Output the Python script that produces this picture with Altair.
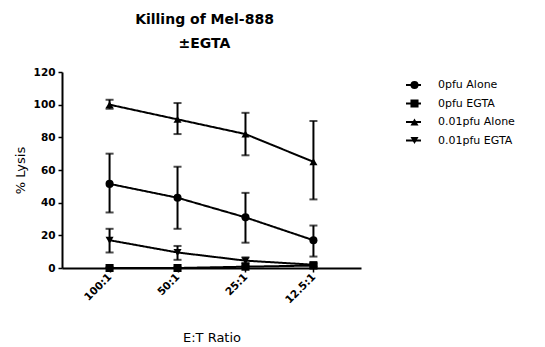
import altair as alt
import pandas as pd

ratios = ["100:1", "50:1", "25:1", "12.5:1"]
series = ["0pfu Alone", "0pfu EGTA", "0.01pfu Alone", "0.01pfu EGTA"]
shapes = ["circle", "square", "triangle-up", "triangle-down"]

mean_0_alone = [51.5, 43, 31, 17]
lo_0_alone = [34, 24, 15.5, 7]
hi_0_alone = [70, 62, 46, 26]

mean_0_egta = [0, 0, 0.8, 1.5]
lo_0_egta = [0, 0, 0.3, 0.8]
hi_0_egta = [0.4, 0.4, 1.3, 2.2]

mean_001_alone = [100, 91, 82, 65]
lo_001_alone = [97.5, 82, 69, 42]
hi_001_alone = [103, 101, 95, 90]

mean_001_egta = [17, 9.5, 4.5, 2]
lo_001_egta = [9.5, 5, 3, 1]
hi_001_egta = [24, 13.5, 6.5, 3]

means = [mean_0_alone, mean_0_egta, mean_001_alone, mean_001_egta]
los = [lo_0_alone, lo_0_egta, lo_001_alone, lo_001_egta]
his = [hi_0_alone, hi_0_egta, hi_001_alone, hi_001_egta]

rows = []
for i, (s, m, lo, hi) in enumerate(zip(series, means, los, his)):
    for r, mv, l, h in zip(ratios, m, lo, hi):
        rows.append({"ratio": r, "series": s, "series_line": s, "order": i,
                     "lysis": mv, "lo": l, "hi": h})
df = pd.DataFrame(rows)

FONT = "DejaVu Sans"
x_enc = alt.X("ratio:N", sort=ratios,
              scale=alt.Scale(type="point", domain=ratios, padding=0.7),
              axis=alt.Axis(title="E:T Ratio", labelAngle=-45, labelAlign="right",
                            labelBaseline="middle", labelPadding=3, titlePadding=26))
y_scale = alt.Scale(domain=[0, 120], nice=False)
y_axis = alt.Axis(title="% Lysis", values=[0, 20, 40, 60, 80, 100, 120], titlePadding=6,
                  labelPadding=3, labelOverlap=False)

base = alt.Chart(df)

lines = base.mark_line(color="black", strokeWidth=2).encode(
    x=x_enc,
    y=alt.Y("lysis:Q", scale=y_scale, axis=y_axis),
    detail="series:N",
    strokeDash=alt.StrokeDash(
        "series_line:N",
        sort=alt.EncodingSortField(field="order", op="min"),
        scale=alt.Scale(range=[[1, 0]] * 4),
        legend=alt.Legend(title=None, orient="none", legendX=343, legendY=5,
                          symbolType="stroke", symbolSize=225, symbolStrokeWidth=2,
                          symbolStrokeColor="black", labelExpr="''",
                          clipHeight=16, rowPadding=2.5, padding=0),
    ),
)

rules = base.mark_rule(color="black", strokeWidth=2).encode(
    x=x_enc,
    y=alt.Y("lo:Q", scale=y_scale, axis=y_axis),
    y2="hi:Q",
)
caps_lo = base.mark_tick(color="black", thickness=2, size=8).encode(
    x=x_enc, y=alt.Y("lo:Q", scale=y_scale, axis=y_axis))
caps_hi = base.mark_tick(color="black", thickness=2, size=8).encode(
    x=x_enc, y=alt.Y("hi:Q", scale=y_scale, axis=y_axis))

points = base.mark_point(filled=True, color="black", size=65, opacity=1).encode(
    x=x_enc,
    y=alt.Y("lysis:Q", scale=y_scale, axis=y_axis),
    shape=alt.Shape(
        "series:N",
        scale=alt.Scale(domain=series, range=shapes),
        legend=alt.Legend(title=None, orient="none", legendX=347, legendY=5,
                          symbolSize=65, symbolFillColor="black", symbolStrokeWidth=0,
                          labelOffset=18, labelFont=FONT, labelFontSize=11,
                          labelColor="black", clipHeight=16, rowPadding=2.5, padding=0),
    ),
)

chart = alt.layer(lines, rules, caps_lo, caps_hi, points).properties(
    width=299,
    height=196,
    autosize=alt.AutoSizeParams(type="none"),
    padding={"left": 54, "top": 64, "right": 170, "bottom": 76},
    title=alt.TitleParams(["Killing of Mel-888", "±EGTA"], font=FONT, fontSize=14,
                          fontWeight="bold", color="black", anchor="middle",
                          lineHeight=24, offset=16, dx=-7),
).configure_view(stroke=None).configure_axis(
    grid=False,
    domainColor="black",
    domainWidth=2,
    tickColor="black",
    tickWidth=1.5,
    tickSize=4,
    labelFont=FONT,
    labelFontSize=10.5,
    labelFontWeight="bold",
    labelColor="black",
    titleFont=FONT,
    titleFontSize=13,
    titleFontWeight="normal",
    titleColor="black",
).configure_legend(labelFont=FONT, labelFontSize=11)

chart.save("out.html", embed_options={"renderer": "svg", "actions": False})
